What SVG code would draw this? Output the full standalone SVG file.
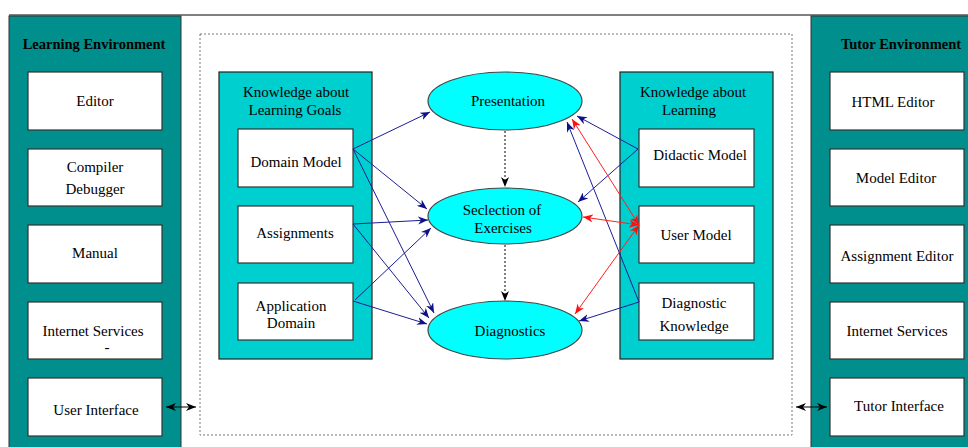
<svg xmlns="http://www.w3.org/2000/svg" width="968" height="447" viewBox="0 0 968 447" font-family="'Liberation Serif', 'DejaVu Serif', serif">
<style>
text{font-family:'Liberation Serif','DejaVu Serif',serif;font-size:15px;fill:#000;text-anchor:middle}
.title{font-weight:bold;font-size:14.5px}
.env{fill:#008f8c;stroke:#333;stroke-width:1}
.kp{fill:#00cfd0;stroke:#222;stroke-width:1.2}
.box{fill:#fff;stroke:#333;stroke-width:1.2}
.ell{fill:#00ffff;stroke:#444;stroke-width:1.2}
.b{stroke:#1c1c96;stroke-width:1;fill:none}
.r{stroke:#ff2020;stroke-width:1;fill:none}
.k{stroke:#000;stroke-width:1;fill:none}
.dot{stroke:#000;stroke-width:1;fill:none;stroke-dasharray:2 2}
</style>
<defs>
<marker id="ab" markerUnits="userSpaceOnUse" markerWidth="11" markerHeight="8" refX="10" refY="4" orient="auto-start-reverse"><path d="M0,0 L10,4 L0,8 L3,4 Z" fill="#10108a"/></marker>
<marker id="ar" markerUnits="userSpaceOnUse" markerWidth="11" markerHeight="8" refX="10" refY="4" orient="auto-start-reverse"><path d="M0,0 L10,4 L0,8 L3,4 Z" fill="#ff1010"/></marker>
<marker id="ak" markerUnits="userSpaceOnUse" markerWidth="11" markerHeight="8" refX="10" refY="4" orient="auto-start-reverse"><path d="M0,0 L10,4 L0,8 L3,4 Z" fill="#000"/></marker>
</defs>
<rect x="0" y="0" width="968" height="447" fill="#fff"/>
<line x1="9" y1="15" x2="968" y2="15" stroke="#808080" stroke-width="2"/>
<rect x="200" y="34" width="592" height="401" fill="none" stroke="#777" stroke-width="1" stroke-dasharray="2 2"/>

<g id="learning-environment">
<rect class="env" x="9" y="16" width="172" height="440"/>
<text class="title" x="94" y="49">Learning Environment</text>
</g>
<g id="editor"><rect class="box" x="28" y="72" width="134" height="58"/><text x="95" y="106">Editor</text></g>
<g id="compiler"><rect class="box" x="28" y="149" width="134" height="57"/><text x="95" y="172">Compiler</text><text x="95" y="194">Debugger</text></g>
<g id="manual"><rect class="box" x="28" y="225" width="134" height="58"/><text x="95" y="258">Manual</text></g>
<g id="internet-left"><rect class="box" x="28" y="302" width="134" height="57"/><text x="93" y="336">Internet Services</text><text x="107" y="352">-</text></g>
<g id="user-interface"><rect class="box" x="28" y="378" width="134" height="58"/><text x="96" y="415">User Interface</text></g>

<g id="tutor-environment">
<rect class="env" x="811" y="16" width="170" height="440"/>
<text class="title" x="901" y="49">Tutor Environment</text>
</g>
<g id="html-editor"><rect class="box" x="830" y="72" width="134" height="58"/><text x="893" y="107">HTML Editor</text></g>
<g id="model-editor"><rect class="box" x="830" y="149" width="134" height="57"/><text x="896" y="183">Model Editor</text></g>
<g id="assignment-editor"><rect class="box" x="830" y="225" width="134" height="58"/><text x="897" y="261">Assignment Editor</text></g>
<g id="internet-right"><rect class="box" x="830" y="302" width="134" height="57"/><text x="897" y="336">Internet Services</text></g>
<g id="tutor-interface"><rect class="box" x="830" y="378" width="134" height="58"/><text x="899" y="411">Tutor Interface</text></g>

<g id="knowledge-goals">
<rect class="kp" x="219" y="72" width="153" height="287"/>
<text x="296" y="97">Knowledge about</text>
<text x="295" y="115">Learning Goals</text>
</g>
<g id="domain-model"><rect class="box" x="238" y="129" width="115" height="58"/><text x="296" y="167">Domain Model</text></g>
<g id="assignments"><rect class="box" x="238" y="206" width="115" height="57"/><text x="295" y="238">Assignments</text></g>
<g id="application-domain"><rect class="box" x="238" y="283" width="115" height="57"/><text x="291" y="311">Application</text><text x="291" y="328">Domain</text></g>

<g id="knowledge-learning">
<rect class="kp" x="620" y="72" width="153" height="287"/>
<text x="693" y="97">Knowledge about</text>
<text x="689" y="115">Learning</text>
</g>
<g id="didactic-model"><rect class="box" x="639" y="129" width="115" height="58"/><text x="700" y="160">Didactic Model</text></g>
<g id="user-model"><rect class="box" x="639" y="206" width="115" height="57"/><text x="696" y="240">User Model</text></g>
<g id="diagnostic-knowledge"><rect class="box" x="639" y="283" width="115" height="57"/><text x="694" y="308">Diagnostic</text><text x="694" y="331">Knowledge</text></g>

<g id="presentation"><ellipse class="ell" cx="505" cy="101" rx="77" ry="29"/><text x="508" y="106">Presentation</text></g>
<g id="selection"><ellipse class="ell" cx="505" cy="216" rx="77" ry="28"/><text x="502" y="215">Seclection of</text><text x="503" y="233">Exercises</text></g>
<g id="diagnostics"><ellipse class="ell" cx="505" cy="330" rx="77" ry="29"/><text x="510" y="336">Diagnostics</text></g>

<g id="connectors">
<line class="b" x1="353" y1="149" x2="430" y2="112" marker-end="url(#ab)"/>
<line class="b" x1="353" y1="149" x2="427" y2="209" marker-end="url(#ab)"/>
<line class="b" x1="353" y1="149" x2="434" y2="313" marker-end="url(#ab)"/>
<line class="b" x1="353" y1="224" x2="428" y2="220" marker-end="url(#ab)"/>
<line class="b" x1="353" y1="224" x2="429" y2="318" marker-end="url(#ab)"/>
<line class="b" x1="355" y1="300" x2="431" y2="228" marker-end="url(#ab)"/>
<line class="b" x1="353" y1="301" x2="427" y2="324" marker-end="url(#ab)"/>
<line class="b" x1="638" y1="149" x2="577" y2="116" marker-end="url(#ab)"/>
<line class="b" x1="638" y1="149" x2="578" y2="202" marker-end="url(#ab)"/>
<line class="b" x1="639" y1="302" x2="567" y2="122" marker-end="url(#ab)"/>
<line class="b" x1="639" y1="302" x2="579" y2="321" marker-end="url(#ab)"/>
<line class="r" x1="572" y1="119" x2="639" y2="225" marker-start="url(#ar)" marker-end="url(#ar)"/>
<line class="r" x1="583" y1="217" x2="639" y2="225" marker-start="url(#ar)" marker-end="url(#ar)"/>
<line class="r" x1="575" y1="314" x2="639" y2="225" marker-start="url(#ar)" marker-end="url(#ar)"/>
<line class="dot" x1="505" y1="131" x2="505" y2="187" marker-end="url(#ak)"/>
<line class="dot" x1="505" y1="245" x2="505" y2="301" marker-end="url(#ak)"/>
<line class="k" x1="166" y1="407" x2="196" y2="407" marker-start="url(#ak)" marker-end="url(#ak)"/>
<line class="k" x1="796" y1="407" x2="827" y2="407" marker-start="url(#ak)" marker-end="url(#ak)"/>
</g>
</svg>
